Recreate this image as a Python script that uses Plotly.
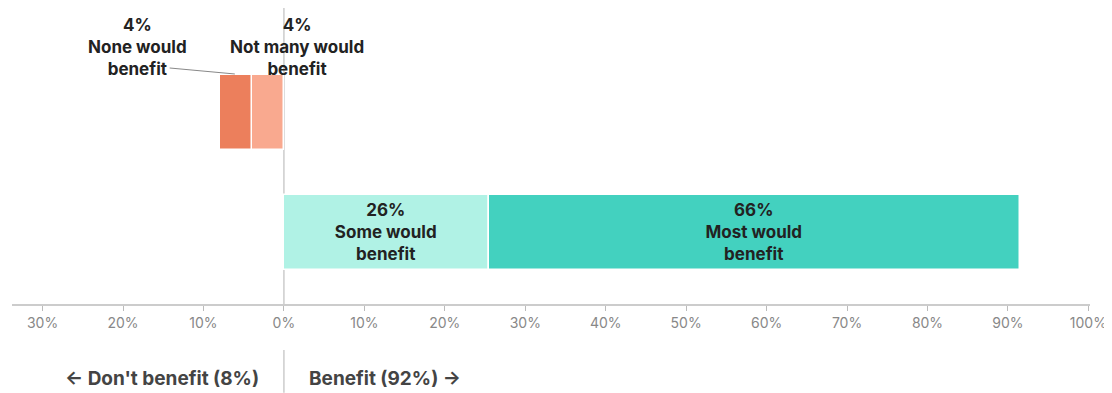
import plotly.graph_objects as go

categories = ["Benefit", "Don't benefit"]
segments = ["Not many would benefit", "None would benefit", "Some would benefit", "Most would benefit"]
values = [-4, -4, 25.5, 66]
labels = ["4%", "4%", "26%", "66%"]
colors = ["#F9A98F", "#EC7F5C", "#B0F2E5", "#43D1BF"]
rows = ["Don't benefit", "Don't benefit", "Benefit", "Benefit"]
tick_vals = [-30, -20, -10, 0, 10, 20, 30, 40, 50, 60, 70, 80, 90, 100]
tick_text = ["30%", "20%", "10%", "0%", "10%", "20%", "30%", "40%", "50%", "60%", "70%", "80%", "90%", "100%"]

FONT = "Inter, 'Open Sans', sans-serif"
LBL = 17
fig = go.Figure()
for seg, v, lab, c, r in zip(segments, values, labels, colors, rows):
    words = seg.rsplit(" ", 1)
    inside = v > 0
    fig.add_trace(go.Bar(
        y=[r], x=[v], orientation="h", name=seg,
        marker=dict(color=c, line=dict(color="white", width=1.5)),
        width=0.625,
        text=[f"<b>{lab}<br>{words[0]}<br>{words[1]}</b>"] if inside else None,
        textposition="inside" if inside else "none",
        insidetextanchor="middle",
        textfont=dict(family=FONT, size=LBL, color="#222222"),
        hoverinfo="skip", showlegend=False,
    ))

ann = []
ann.append(dict(x=-18.2, y=1.542, xref="x", yref="y", showarrow=False,
                text=f"<b>{labels[1]}<br>None would<br>benefit</b>",
                font=dict(family=FONT, size=LBL, color="#222222"), align="center"))
ann.append(dict(x=1.6, y=1.542, xref="x", yref="y", showarrow=False,
                text=f"<b>{labels[0]}<br>Not many would<br>benefit</b>",
                font=dict(family=FONT, size=LBL, color="#222222"), align="center"))
ann.append(dict(x=0, y=-0.25, xref="x", yref="paper", xanchor="right", yanchor="middle",
                xshift=-23, showarrow=False, text="<b>← Don't benefit (8%)</b>",
                font=dict(family=FONT, size=19, color="#444444")))
ann.append(dict(x=0, y=-0.25, xref="x", yref="paper", xanchor="left", yanchor="middle",
                xshift=23, showarrow=False, text="<b>Benefit (92%) →</b>",
                font=dict(family=FONT, size=19, color="#444444")))

shapes = [
    dict(type="line", xref="x", yref="paper", x0=0, x1=0, y0=0, y1=1.015,
         line=dict(color="#CCCCCC", width=1.5), layer="below"),
    dict(type="line", xref="x", yref="paper", x0=0, x1=0, y0=-0.155, y1=-0.30,
         line=dict(color="#CCCCCC", width=1.5)),
    dict(type="line", xref="x", yref="y", x0=-14.2, y0=1.367, x1=-6.1, y1=1.317,
         line=dict(color="#888888", width=1)),
]

fig.update_layout(
    width=1112, height=393,
    margin=dict(l=4, r=30, t=0, b=97, autoexpand=False),
    paper_bgcolor="white", plot_bgcolor="white",
    barmode="relative", bargap=0,
    annotations=ann, shapes=shapes,
    xaxis=dict(range=[-33.8, 100.2], tickvals=tick_vals, ticktext=tick_text,
               showgrid=False, zeroline=False, showline=True, linecolor="#CCCCCC",
               linewidth=1.5, ticks="outside", ticklen=5, tickcolor="#BBBBBB",
               tickfont=dict(family=FONT, size=14, color="#888888")),
    yaxis=dict(type="category", categoryorder="array", categoryarray=categories,
               range=[-0.6, 1.867], showgrid=False, zeroline=False, showticklabels=False,
               showline=False),
)
fig.write_html("out.html")
